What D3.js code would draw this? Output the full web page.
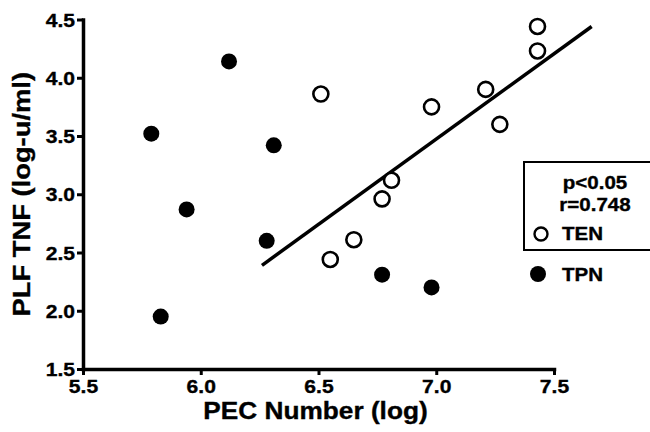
<!DOCTYPE html>
<html>
<head>
<meta charset="utf-8">
<script src="https://cdn.jsdelivr.net/npm/d3@7"></script>
<style>
  html, body { margin: 0; padding: 0; background: #fff; }
  svg { display: block; }
  text { font-family: "Liberation Sans", Arial, Helvetica, sans-serif; font-weight: bold; fill: #000; stroke: #000; stroke-width: 0.35px; }
</style>
</head>
<body>
<svg id="chart" width="650" height="432"></svg>
<script>
// ---- data ----
const tenX = [6.51, 6.98, 7.21, 7.27, 7.43, 7.43, 6.81, 6.77, 6.65, 6.55];
const tenY = [3.86, 3.75, 3.90, 3.60, 4.44, 4.23, 3.12, 2.96, 2.61, 2.44];
const tpnX = [5.79, 6.12, 6.31, 5.94, 6.28, 5.83, 6.77, 6.98];
const tpnY = [3.52, 4.14, 3.42, 2.87, 2.60, 1.95, 2.31, 2.20];
const fitX = [6.26, 7.66];
const fitY = [2.39, 4.44];
const xTicks = [5.5, 6.0, 6.5, 7.0, 7.5];
const yTicks = [1.5, 2.0, 2.5, 3.0, 3.5, 4.0, 4.5];
const xTitle = "PEC Number (log)";
const yTitle = "PLF TNF (log-u/ml)";
const statLines = ["p<0.05", "r=0.748"];
const seriesNames = ["TEN", "TPN"];

// ---- layout ----
const W = 650, H = 432;
const m = { left: 83, right: 96, top: 19.5, bottom: 63 };
const SX = 1.14; // horizontal stretch of lettering

const svg = d3.select("#chart");
const x = d3.scaleLinear().domain([5.5, 7.5]).range([m.left, W - m.right]);
const y = d3.scaleLinear().domain([1.5, 4.5]).range([H - m.bottom, m.top]);

// axes
const fmt = d3.format(".1f");
const gx = svg.append("g").attr("transform", `translate(0,${H - m.bottom})`)
  .call(d3.axisBottom(x).tickValues(xTicks).tickFormat(fmt).tickSize(6).tickSizeOuter(0));
const gy = svg.append("g").attr("transform", `translate(${m.left},0)`)
  .call(d3.axisLeft(y).tickValues(yTicks).tickFormat(fmt).tickSize(6).tickSizeOuter(0));

[gx, gy].forEach(g => {
  g.select(".domain").attr("stroke", "#000").attr("stroke-width", 3.5).attr("stroke-linecap", "square");
  g.selectAll(".tick line").attr("stroke", "#000").attr("stroke-width", 3);
  g.selectAll(".tick text").style("font-size", "18.5px").attr("font-family", null).attr("font-size", null);
});
gx.selectAll(".tick text").attr("y", 0).attr("dy", null)
  .attr("transform", `translate(0,24) scale(${SX},1)`);
gy.selectAll(".tick text").attr("x", 0).attr("dy", "0.36em")
  .attr("transform", `translate(-8,0) scale(${SX},1)`);

// axis titles
svg.append("text")
  .attr("transform", `translate(${(m.left + W - m.right) / 2 - 3},419) scale(${SX},1)`)
  .attr("text-anchor", "middle").style("font-size", "23px").text(xTitle);
svg.append("text")
  .attr("transform", `translate(30,${(m.top + H - m.bottom) / 2}) rotate(-90) scale(${SX},1)`)
  .attr("text-anchor", "middle").style("font-size", "24px").text(yTitle);

// regression line
svg.append("path")
  .datum(fitX.map((d, i) => [d, fitY[i]]))
  .attr("d", d3.line().x(d => x(d[0])).y(d => y(d[1])))
  .attr("stroke", "#000").attr("stroke-width", 3.5).attr("fill", "none");

// TPN points (filled)
svg.append("g").selectAll("circle")
  .data(tpnX.map((d, i) => [d, tpnY[i]]))
  .join("circle")
  .attr("cx", d => x(d[0])).attr("cy", d => y(d[1])).attr("r", 8)
  .attr("fill", "#000");

// TEN points (open)
svg.append("g").selectAll("circle")
  .data(tenX.map((d, i) => [d, tenY[i]]))
  .join("circle")
  .attr("cx", d => x(d[0])).attr("cy", d => y(d[1])).attr("r", 7.5)
  .attr("fill", "#fff").attr("stroke", "#000").attr("stroke-width", 2.6);

// legend box
const lg = svg.append("g");
lg.append("rect").attr("x", 524).attr("y", 162).attr("width", 140).attr("height", 88)
  .attr("fill", "none").attr("stroke", "#000").attr("stroke-width", 2);
statLines.forEach((t, i) => {
  lg.append("text")
    .attr("transform", `translate(595,${189 + i * 22}) scale(${SX},1)`)
    .attr("text-anchor", "middle").style("font-size", "18px").text(t);
});
// series legend
lg.append("circle").attr("cx", 541).attr("cy", 234).attr("r", 6.5)
  .attr("fill", "#fff").attr("stroke", "#000").attr("stroke-width", 2.4);
lg.append("text").attr("transform", `translate(562,240) scale(${SX},1)`)
  .style("font-size", "18px").text(seriesNames[0]);
lg.append("circle").attr("cx", 538).attr("cy", 274).attr("r", 8).attr("fill", "#000");
lg.append("text").attr("transform", `translate(562,281) scale(${SX},1)`)
  .style("font-size", "18px").text(seriesNames[1]);
</script>
</body>
</html>
